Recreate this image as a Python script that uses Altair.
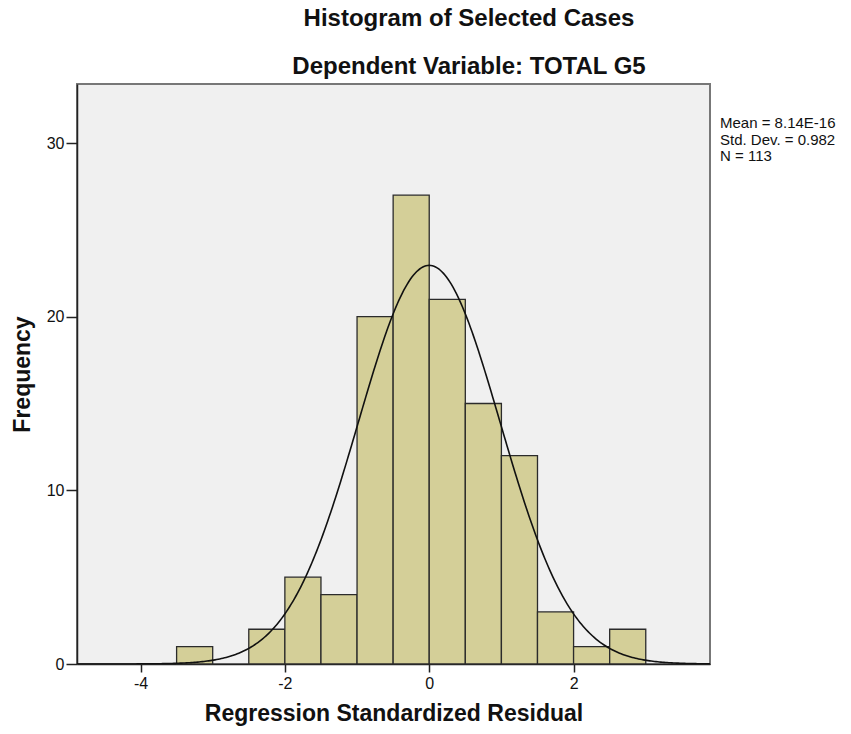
import altair as alt
import numpy as np
import pandas as pd

# Histogram data (bin width 0.5)
bin_start = [-3.5, -2.5, -2.0, -1.5, -1.0, -0.5, 0.0, 0.5, 1.0, 1.5, 2.0, 2.5]
bin_end = [-3.0, -2.0, -1.5, -1.0, -0.5, 0.0, 0.5, 1.0, 1.5, 2.0, 2.5, 3.0]
counts = [1, 2, 5, 4, 20, 27, 21, 15, 12, 3, 1, 2]

mean = 8.14e-16
sd = 0.982
n = 113
bin_width = 0.5

x_ticks = [-4, -2, 0, 2]
y_ticks = [0, 10, 20, 30]
stats_lines = ["Mean = 8.14E-16", "Std. Dev. = 0.982", "N = 113"]
title_lines = ["Histogram of Selected Cases", "Dependent Variable: TOTAL G5"]

XMIN, XMAX = -4.88, 3.89
YMAX = 33.4

bars = pd.DataFrame({"x0": bin_start, "x1": bin_end, "count": counts})

# fitted normal curve from the stated mean, std. dev. and N
xs = np.linspace(XMIN, XMAX, 400)
ys = n * bin_width * np.exp(-0.5 * ((xs - mean) / sd) ** 2) / (sd * np.sqrt(2 * np.pi))
curve = pd.DataFrame({"x": xs, "y": ys})

W, H = 633, 580
FONT = "Liberation Sans"

xscale = alt.Scale(domain=[XMIN, XMAX], nice=False, zero=False)
yscale = alt.Scale(domain=[0, YMAX], nice=False)

x_axis = alt.Axis(values=x_ticks, title="Regression Standardized Residual",
                  tickSize=8, labelPadding=3, labelExpr="'' + datum.value",
                  titleY=56, titleBaseline="alphabetic")
y_axis = alt.Axis(values=y_ticks, title="Frequency",
                  tickSize=11, labelPadding=2, labelExpr="'' + datum.value",
                  titleAngle=-90, titleX=-47.5,
                  titleY=H / 2, titleAlign="center",
                  titleBaseline="alphabetic")

hist = alt.Chart(bars).mark_rect(
    fill="#d4cf98", stroke="#2b2b2b", strokeWidth=1.3
).encode(
    x=alt.X("x0:Q", scale=xscale, axis=x_axis, title="Regression Standardized Residual"),
    x2="x1:Q",
    y=alt.Y("count:Q", scale=yscale, axis=y_axis, title="Frequency"),
    y2=alt.datum(0),
)

line = alt.Chart(curve).mark_line(color="#111", strokeWidth=1.6, clip=True).encode(
    x=alt.X("x:Q", scale=xscale, axis=x_axis, title="Regression Standardized Residual"),
    y=alt.Y("y:Q", scale=yscale, axis=y_axis, title="Frequency"),
)

stats = alt.Chart(alt.Data(values=[{}])).mark_text(
    align="left", baseline="top", font=FONT, fontSize=15, color="#111",
    lineHeight=16.5,
).encode(
    x=alt.value(W + 10), y=alt.value(32),
    text=alt.value(stats_lines),
)

title1 = alt.Chart(alt.Data(values=[{}])).mark_text(
    align="center", baseline="alphabetic", font=FONT, fontSize=24,
    fontWeight="bold", color="#111",
).encode(x=alt.value(392), y=alt.value(-58), text=alt.value(title_lines[0]))

title2 = alt.Chart(alt.Data(values=[{}])).mark_text(
    align="center", baseline="alphabetic", font=FONT, fontSize=24,
    fontWeight="bold", color="#111",
).encode(x=alt.value(392), y=alt.value(-10), text=alt.value(title_lines[1]))

chart = alt.layer(hist, line, stats, title1, title2).properties(
    width=W, height=H,
    autosize=alt.AutoSizeParams(type="none"),
    padding={"left": 69, "top": 76, "right": 133, "bottom": 62},
    background="white",
).configure_view(
    fill="#f0f0f0", stroke="#777", strokeWidth=2,
).configure_axis(
    grid=False, domainColor="#222", domainWidth=1.5,
    tickColor="#222", tickWidth=1.5,
    labelFont=FONT, labelFontSize=16, labelColor="#111",
    titleFont=FONT, titleFontSize=23, titleFontWeight="bold", titleColor="#111",
)

chart.save("out.html", embed_options={"renderer": "svg", "actions": False})
